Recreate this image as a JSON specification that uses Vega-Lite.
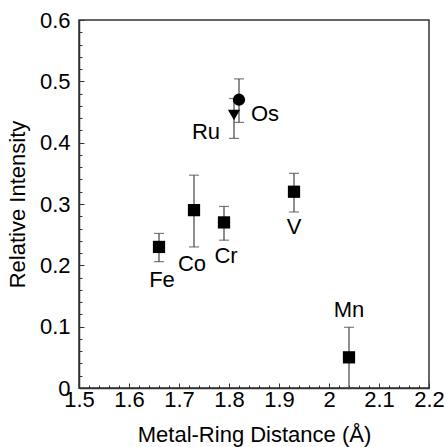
{
  "$schema": "https://vega.github.io/schema/vega-lite/v6.json",
  "autosize": "none",
  "width": 350,
  "height": 368,
  "padding": {"left": 79, "top": 20, "right": 16, "bottom": 59},
  "background": "white",
  "config": {
    "view": {"stroke": "#333", "strokeWidth": 1.5},
    "font": "Liberation Sans",
    "axis": {
      "domainColor": "#333",
      "domainWidth": 1.5,
      "tickColor": "#333",
      "grid": false,
      "labelFont": "Liberation Sans",
      "labelColor": "black",
      "titleFont": "Liberation Sans",
      "titleFontSize": 22,
      "titleFontWeight": "normal",
      "titleColor": "black",
      "labelOverlap": false,
      "labelBound": false,
      "labelFlush": false
    }
  },
  "data": {
    "values": [
      {"metal": "Fe", "d": 1.66, "I": 0.23, "lo": 0.206, "hi": 0.252},
      {"metal": "Co", "d": 1.73, "I": 0.29, "lo": 0.23, "hi": 0.347},
      {"metal": "Cr", "d": 1.79, "I": 0.27, "lo": 0.241, "hi": 0.296},
      {"metal": "V", "d": 1.93, "I": 0.32, "lo": 0.287, "hi": 0.35},
      {"metal": "Mn", "d": 2.04, "I": 0.05, "lo": 0.0, "hi": 0.099},
      {"metal": "Os", "d": 1.82, "I": 0.47, "lo": 0.433, "hi": 0.504},
      {"metal": "Ru", "d": 1.81, "I": 0.445, "lo": 0.407, "hi": 0.472}
    ]
  },
  "encoding": {
    "x": {
      "field": "d", "type": "quantitative",
      "scale": {"domain": [1.5, 2.2], "nice": false, "zero": false},
      "axis": {
        "title": "Metal-Ring Distance (Å)",
        "values": [1.5,1.52,1.54,1.56,1.58,1.6,1.62,1.64,1.66,1.68,1.7,1.72,1.74,1.76,1.78,1.8,1.82,1.84,1.86,1.88,1.9,1.92,1.94,1.96,1.98,2.0,2.02,2.04,2.06,2.08,2.1,2.12,2.14,2.16,2.18,2.2],
        "labelExpr": "abs(datum.value*10 - round(datum.value*10)) < 0.001 ? format(datum.value, '~g') : ''",
        "tickSize": {"condition": {"test": "abs(datum.value*10 - round(datum.value*10)) < 0.001", "value": -5}, "value": -3},
        "labelFontSize": 22,
        "labelPadding": 6,
        "titlePadding": 12
      }
    },
    "y": {
      "field": "I", "type": "quantitative",
      "scale": {"domain": [0, 0.6], "nice": false},
      "axis": {
        "title": "Relative Intensity",
        "values": [0,0.02,0.04,0.06,0.08,0.1,0.12,0.14,0.16,0.18,0.2,0.22,0.24,0.26,0.28,0.3,0.32,0.34,0.36,0.38,0.4,0.42,0.44,0.46,0.48,0.5,0.52,0.54,0.56,0.58,0.6],
        "labelExpr": "abs(datum.value*10 - round(datum.value*10)) < 0.001 ? format(datum.value, '~g') : ''",
        "tickSize": {"condition": {"test": "abs(datum.value*10 - round(datum.value*10)) < 0.001", "value": -5}, "value": -3},
        "labelFontSize": 22,
        "labelPadding": 14,
        "titlePadding": 10
      }
    }
  },
  "layer": [
    {
      "mark": {"type": "rule", "color": "#444", "strokeWidth": 1.2},
      "encoding": {"y": {"field": "lo", "type": "quantitative"}, "y2": {"field": "hi"}}
    },
    {
      "mark": {"type": "tick", "orient": "horizontal", "color": "#444", "size": 10, "thickness": 1.2},
      "encoding": {"y": {"field": "hi", "type": "quantitative"}}
    },
    {
      "mark": {"type": "tick", "orient": "horizontal", "color": "#444", "size": 10, "thickness": 1.2},
      "encoding": {"y": {"field": "lo", "type": "quantitative"}}
    },
    {
      "mark": {"type": "point", "filled": true, "opacity": 1, "color": "black"},
      "encoding": {
        "shape": {"field": "metal", "type": "nominal", "legend": null,
          "scale": {"domain": ["Fe","Co","Cr","V","Mn","Os","Ru"], "range": ["square","square","square","square","square","circle","triangle-down"]}},
        "size": {"field": "metal", "type": "nominal", "legend": null,
          "scale": {"domain": ["Fe","Co","Cr","V","Mn","Os","Ru"], "range": [150,150,150,150,150,125,260]}}
      }
    },
    {"transform": [{"filter": "datum.metal == 'Fe'"}], "mark": {"type": "text", "font": "Liberation Sans", "fontSize": 22, "baseline": "middle", "align": "center", "dx": 3, "dy": 33}, "encoding": {"text": {"field": "metal"}}},
    {"transform": [{"filter": "datum.metal == 'Co'"}], "mark": {"type": "text", "font": "Liberation Sans", "fontSize": 22, "baseline": "middle", "align": "center", "dx": -2, "dy": 54}, "encoding": {"text": {"field": "metal"}}},
    {"transform": [{"filter": "datum.metal == 'Cr'"}], "mark": {"type": "text", "font": "Liberation Sans", "fontSize": 22, "baseline": "middle", "align": "center", "dx": 2, "dy": 34}, "encoding": {"text": {"field": "metal"}}},
    {"transform": [{"filter": "datum.metal == 'V'"}], "mark": {"type": "text", "font": "Liberation Sans", "fontSize": 22, "baseline": "middle", "align": "center", "dx": 0, "dy": 35}, "encoding": {"text": {"field": "metal"}}},
    {"transform": [{"filter": "datum.metal == 'Mn'"}], "mark": {"type": "text", "font": "Liberation Sans", "fontSize": 22, "baseline": "middle", "align": "center", "dx": 0, "dy": -47}, "encoding": {"text": {"field": "metal"}}},
    {"transform": [{"filter": "datum.metal == 'Os'"}], "mark": {"type": "text", "font": "Liberation Sans", "fontSize": 22, "baseline": "middle", "align": "center", "dx": 26, "dy": 14}, "encoding": {"text": {"field": "metal"}}},
    {"transform": [{"filter": "datum.metal == 'Ru'"}], "mark": {"type": "text", "font": "Liberation Sans", "fontSize": 22, "baseline": "middle", "align": "center", "dx": -28, "dy": 17}, "encoding": {"text": {"field": "metal"}}}
  ]
}
